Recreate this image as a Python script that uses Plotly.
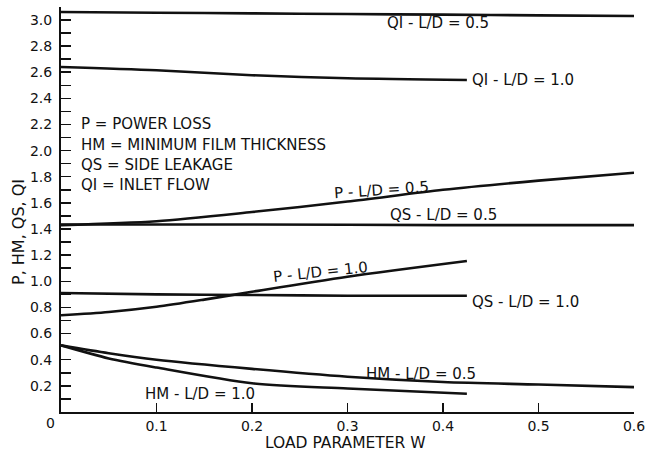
import plotly.graph_objects as go

# ---- data ----
w_qi05 = [0.0, 0.1, 0.2, 0.3, 0.4, 0.5, 0.6]
qi_05 = [3.06, 3.055, 3.05, 3.045, 3.04, 3.035, 3.03]

w_qi10 = [0.0, 0.1, 0.2, 0.3, 0.425]
qi_10 = [2.64, 2.615, 2.577, 2.553, 2.54]

w_p05 = [0.0, 0.1, 0.2, 0.3, 0.4, 0.5, 0.6]
p_05 = [1.43, 1.46, 1.53, 1.61, 1.70, 1.77, 1.83]

w_qs05 = [0.0, 0.2, 0.4, 0.6]
qs_05 = [1.435, 1.435, 1.43, 1.43]

w_p10 = [0.0, 0.05, 0.1, 0.15, 0.2, 0.3, 0.425]
p_10 = [0.74, 0.765, 0.805, 0.86, 0.92, 1.035, 1.155]

w_qs10 = [0.0, 0.1, 0.2, 0.3, 0.425]
qs_10 = [0.91, 0.90, 0.895, 0.89, 0.89]

w_hm05 = [0.0, 0.05, 0.1, 0.2, 0.3, 0.4, 0.5, 0.6]
hm_05 = [0.51, 0.45, 0.40, 0.33, 0.27, 0.23, 0.21, 0.19]

w_hm10 = [0.0, 0.05, 0.1, 0.2, 0.3, 0.425]
hm_10 = [0.51, 0.41, 0.34, 0.22, 0.18, 0.14]

x_ticks = [0.1, 0.2, 0.3, 0.4, 0.5, 0.6]
x_ticktext = ["0.1", "0.2", "0.3", "0.4", "0.5", "0.6"]
y_ticks = [0.2, 0.4, 0.6, 0.8, 1.0, 1.2, 1.4, 1.6, 1.8, 2.0, 2.2, 2.4, 2.6, 2.8, 3.0]
y_ticktext = ["0.2", "0.4", "0.6", "0.8", "1.0", "1.2", "1.4", "1.6", "1.8", "2.0",
              "2.2", "2.4", "2.6", "2.8", "3.0"]

curve_labels = ["QI - L/D = 0.5", "QI - L/D = 1.0", "P - L/D = 0.5", "QS - L/D = 0.5",
                "P - L/D = 1.0", "QS - L/D = 1.0", "HM - L/D = 0.5", "HM - L/D = 1.0"]
label_x = [0.395, 0.428, 0.336, 0.40, 0.272, 0.428, 0.377, 0.146]
label_y = [2.975, 2.54, 1.70, 1.51, 1.07, 0.84, 0.29, 0.14]
label_anchor = ["center", "left", "center", "center", "center", "left", "center", "center"]
label_angle = [0, 0, -4, 0, -6, 0, 0, 0]

key_lines = ["P = POWER LOSS", "HM = MINIMUM FILM THICKNESS", "QS = SIDE LEAKAGE", "QI = INLET FLOW"]
key_y = [2.20, 2.045, 1.89, 1.735]

FONT = "DejaVu Sans, Liberation Sans, Arial, sans-serif"
INK = "#111111"

W_FIG, H_FIG = 647, 458
L, R, T, B = 61, 13, 7, 46
pw, ph = W_FIG - L - R, H_FIG - T - B
y_top = (412 - T) / 130.7

fig = go.Figure()
series = [(w_qi05, qi_05), (w_qi10, qi_10), (w_p05, p_05), (w_qs05, qs_05),
          (w_p10, p_10), (w_qs10, qs_10), (w_hm05, hm_05), (w_hm10, hm_10)]
for xs, ys in series:
    fig.add_trace(go.Scatter(x=xs, y=ys, mode="lines",
                             line=dict(color=INK, width=2.6, shape="spline", smoothing=0.8),
                             showlegend=False, hoverinfo="skip"))

annotations = []
for t, x, y, a, ang in zip(curve_labels, label_x, label_y, label_anchor, label_angle):
    annotations.append(dict(x=x, y=y, xref="x", yref="y", text=t, showarrow=False,
                            xanchor=a, yanchor="middle", textangle=ang,
                            font=dict(family=FONT, size=15, color=INK)))
for t, y in zip(key_lines, key_y):
    annotations.append(dict(x=0.019, y=y, xref="x", yref="y", text=t, showarrow=False,
                            xanchor="left", yanchor="middle",
                            font=dict(family=FONT, size=15, color=INK)))
# shared origin label
annotations.append(dict(x=(50 - L) / pw, y=(412 - 423) / ph, xref="paper", yref="paper",
                        text="0", showarrow=False, xanchor="center", yanchor="middle",
                        font=dict(family=FONT, size=14, color=INK)))
# axis titles
annotations.append(dict(x=(345 - L) / pw, y=0, xref="paper", yref="paper", yshift=-31,
                        text="LOAD PARAMETER W", showarrow=False, xanchor="center", yanchor="middle",
                        font=dict(family=FONT, size=15.5, color=INK)))
annotations.append(dict(x=0, y=(412 - 232) / ph, xref="paper", yref="paper", xshift=-(L - 18),
                        text="P, HM, QS, QI", showarrow=False, textangle=-90,
                        xanchor="center", yanchor="middle",
                        font=dict(family=FONT, size=16, color=INK)))

fig.update_layout(
    width=W_FIG, height=H_FIG,
    margin=dict(l=L, r=R, t=T, b=B, autoexpand=False),
    paper_bgcolor="white", plot_bgcolor="white",
    font=dict(family=FONT, size=14, color=INK),
    annotations=annotations,
    xaxis=dict(range=[0, 0.6], tickvals=x_ticks, ticktext=x_ticktext,
               ticks="inside", ticklen=9, tickwidth=1.5, tickcolor=INK,
               showline=True, linecolor=INK, linewidth=2, showgrid=False, zeroline=False,
               ticklabelstandoff=0, automargin=False,
               tickfont=dict(family=FONT, size=14, color=INK)),
    yaxis=dict(range=[0, y_top], tickvals=y_ticks, ticktext=y_ticktext,
               ticks="inside", ticklen=10, tickwidth=1.5, tickcolor=INK,
               minor=dict(dtick=0.1, tick0=0, ticks="inside", ticklen=10, tickwidth=1.5, tickcolor=INK),
               showline=True, linecolor=INK, linewidth=2, showgrid=False, zeroline=False,
               ticklabelstandoff=4, automargin=False,
               tickfont=dict(family=FONT, size=14, color=INK)),
)

# remove the browser's default 8px body margin so the 647x458 figure fills the window
fig.write_html("out.html",
               config={"displayModeBar": False, "staticPlot": True},
               post_script="document.body.style.margin='0';document.body.style.overflow='hidden';")
